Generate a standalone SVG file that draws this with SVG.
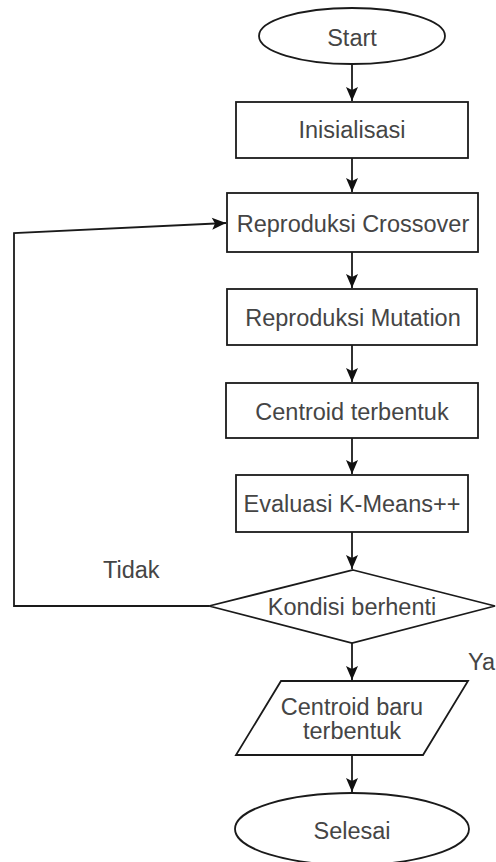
<svg xmlns="http://www.w3.org/2000/svg" width="496" height="862" viewBox="0 0 496 862">
<style>
.s{fill:#fff;stroke:#1a1a1a;stroke-width:1.8}
.c{fill:none;stroke:#1a1a1a;stroke-width:1.8}
text{font-family:"Liberation Sans",Arial,sans-serif;font-size:23.5px;fill:#454545;text-anchor:middle}
.l{text-anchor:start}
</style>
<defs>
<marker id="a" markerUnits="userSpaceOnUse" markerWidth="16" markerHeight="16" viewBox="0 0 16 16" refX="15" refY="8" orient="auto">
<path d="M1,2 L15,8 L1,14 L4,8 Z" fill="#111"/>
</marker>
</defs>
<g id="connectors">
<line class="c" x1="352" y1="64" x2="352" y2="101" marker-end="url(#a)"/>
<line class="c" x1="352" y1="158" x2="352" y2="192" marker-end="url(#a)"/>
<line class="c" x1="352" y1="252" x2="352" y2="288" marker-end="url(#a)"/>
<line class="c" x1="352" y1="345" x2="352" y2="382" marker-end="url(#a)"/>
<line class="c" x1="352" y1="438" x2="352" y2="474" marker-end="url(#a)"/>
<line class="c" x1="352" y1="532" x2="352" y2="569" marker-end="url(#a)"/>
<line class="c" x1="352" y1="643" x2="352" y2="680" marker-end="url(#a)"/>
<line class="c" x1="352" y1="755" x2="352" y2="792" marker-end="url(#a)"/>
<polyline class="c" points="209,606 14,606 14,233 226,223" marker-end="url(#a)"/>
<text class="l" x="103" y="578">Tidak</text>
<text class="l" x="468" y="670">Ya</text>
</g>
<g id="start">
<ellipse class="s" cx="352" cy="36" rx="93" ry="28"/>
<text x="352" y="46">Start</text>
</g>
<g id="inisialisasi">
<rect class="s" x="236" y="102" width="232" height="56"/>
<text x="352" y="138">Inisialisasi</text>
</g>
<g id="crossover">
<rect class="s" x="227" y="193" width="251" height="59"/>
<text x="353" y="232">Reproduksi Crossover</text>
</g>
<g id="mutation">
<rect class="s" x="227" y="289" width="250" height="56"/>
<text x="353" y="326">Reproduksi Mutation</text>
</g>
<g id="centroid">
<rect class="s" x="226" y="383" width="252" height="55"/>
<text x="352" y="420">Centroid terbentuk</text>
</g>
<g id="evaluasi">
<rect class="s" x="236" y="475" width="232" height="57"/>
<text x="352" y="512">Evaluasi K-Means++</text>
</g>
<g id="kondisi">
<polygon class="s" points="353,570 495,606 352,643 209,606"/>
<text x="352" y="615">Kondisi berhenti</text>
</g>
<g id="centroid-baru">
<polygon class="s" points="281,681 468,681 423,755 236,755"/>
<text x="352" y="715">Centroid baru</text>
<text x="352" y="739">terbentuk</text>
</g>
<g id="selesai">
<ellipse class="s" cx="352" cy="829" rx="117" ry="36"/>
<text x="352" y="839">Selesai</text>
</g>
</svg>
